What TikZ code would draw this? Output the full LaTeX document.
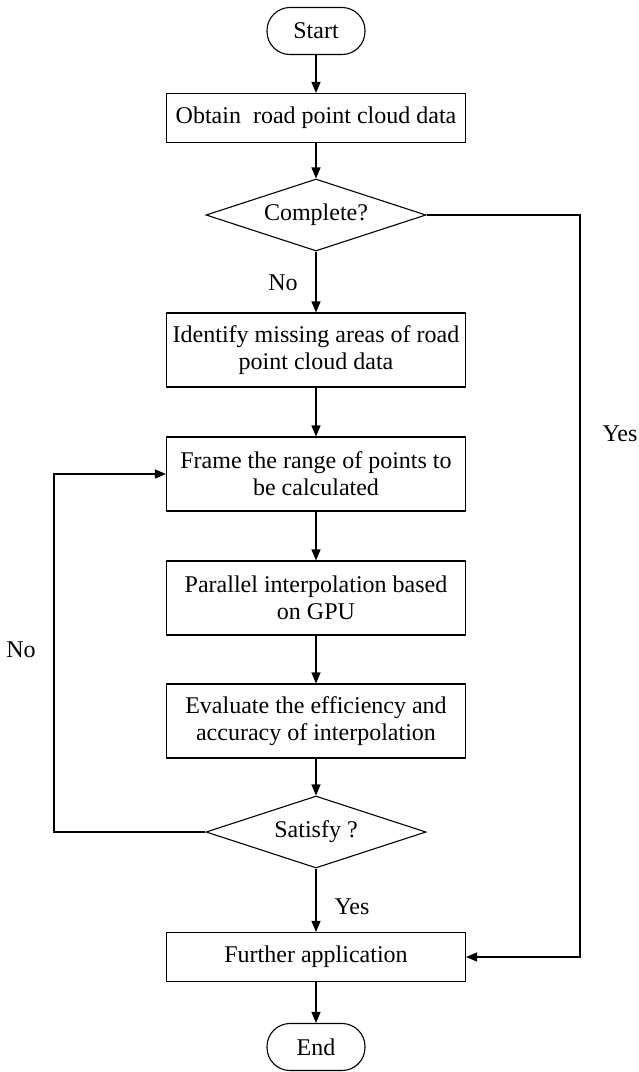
\documentclass[tikz,border=0pt]{standalone}
\usepackage{fontspec}
\setmainfont{Liberation Serif}
\usetikzlibrary{shapes.geometric,arrows.meta}
\begin{document}
\begin{tikzpicture}[x=1pt,y=1pt,
  every node/.style={font=\fontsize{24}{27}\selectfont},
  line/.style={line width=1.1pt, draw=black},
  arr/.style={line, -{Triangle[length=11pt,width=9pt]}},
  terminal/.style={draw, line width=1.1pt, rounded corners=23pt, minimum width=98pt, minimum height=47pt, inner sep=0pt},
  procbox/.style={draw, line width=1.1pt, minimum width=299pt, minimum height=74pt, align=center, inner sep=0pt},
  onebox/.style={draw, line width=1.1pt, minimum width=299pt, minimum height=49pt, inner sep=0pt},
  decision/.style={draw, line width=1.1pt, diamond, shape aspect=3.1, minimum width=220pt, minimum height=72pt, inner sep=0pt},
  lbl/.style={inner sep=0pt}
]
\useasboundingbox (0,0) rectangle (639,-1072);
\node[terminal] (start) at (316,-31) {Start};
\node[onebox] (obtain) at (316,-118) {Obtain\ \ road point cloud data};
\node[decision] (complete) at (316,-215) {Complete?};
\node[procbox] (identify) at (316,-350) {Identify missing areas of road\\point cloud data};
\node[procbox] (frame) at (316,-474) {Frame the range of points to\\be calculated};
\node[procbox] (parallel) at (316,-598) {Parallel interpolation based\\on GPU};
\node[procbox] (evaluate) at (316,-721) {Evaluate the efficiency and\\accuracy of interpolation};
\node[decision] (satisfy) at (316,-832) {Satisfy ?};
\node[onebox] (further) at (316,-957) {Further application};
\node[terminal] (end) at (316,-1047) {End};

\coordinate (rc) at (580,-215);
\coordinate (lc) at (54,-832);

\draw[arr] (start) -- (obtain);
\draw[arr] (obtain) -- (complete);
\draw[arr] (complete) -- (identify);
\draw[arr] (identify) -- (frame);
\draw[arr] (frame) -- (parallel);
\draw[arr] (parallel) -- (evaluate);
\draw[arr] (evaluate) -- (satisfy);
\draw[arr] (satisfy) -- (further);
\draw[arr] (further) -- (end);
\draw[arr] (complete.east) -- (rc) |- (further.east);
\draw[arr] (satisfy.west) -- (lc) |- (frame.west);

\node[lbl] (no1) at (283,-283) {No};
\node[lbl] (yes1) at (352,-907) {Yes};
\node[lbl] (yes2) at (620,-434) {Yes};
\node[lbl] (no2) at (21,-650) {No};
\end{tikzpicture}
\end{document}
